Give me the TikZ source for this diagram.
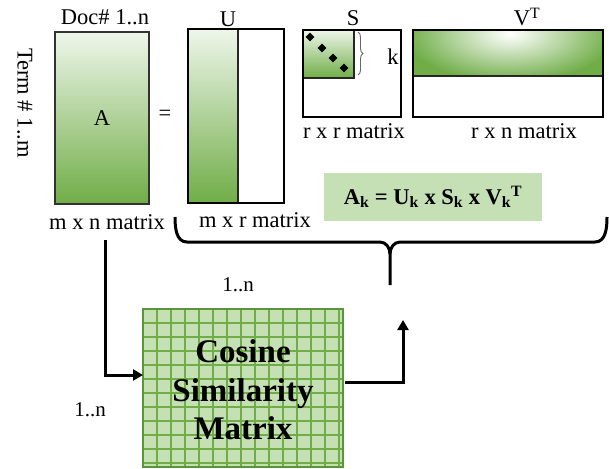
\documentclass[tikz,border=0pt]{standalone}
\usepackage{fontspec}
\setmainfont{Liberation Serif}
\usetikzlibrary{arrows.meta,decorations.pathreplacing,shapes.geometric}
\definecolor{gdark}{HTML}{70AD47}
\definecolor{gborder}{HTML}{5A9637}
\definecolor{glight}{HTML}{C5E0B4}
\definecolor{gpale}{HTML}{EEF6EA}
\begin{document}
\begin{tikzpicture}[x=1pt,y=-1pt,
  lbl/.style={font=\fontsize{22.5}{26}\selectfont, inner sep=0pt},
  frame/.style={draw=black, line width=2.5pt, inner sep=0pt},
  inner/.style={draw=black!85, line width=1.5pt},
  conn/.style={line width=3pt, -{Triangle[length=10pt,width=11pt]}},
  dot/.style={diamond, fill=black, inner sep=0pt, minimum size=9pt},
]
\useasboundingbox (0,0) rectangle (609,468);

% ---- matrix A
\node[inner sep=0pt, draw=black!80, line width=1.5pt, top color=gpale, bottom color=gdark,
      minimum width=94pt, minimum height=172pt, lbl] (A) at (102,118) {A};
\node[lbl] (docl) at (105,17) {Doc\# 1..n};
\node[lbl, rotate=-90] (terml) at (25,103) {Term \# 1..m};
\node[lbl] (eq) at (165,115) {=};
\node[lbl] (mxn) at (107,222) {m x n matrix};

% ---- matrix U
\shade[top color=gpale, bottom color=gdark] (188,29) rectangle (238,203);
\draw[inner] (238,29) -- (238,203);
\node[frame, minimum width=96pt, minimum height=174pt] (U) at (236,116) {};
\node[lbl] (ul) at (228,19) {U};
\node[lbl] (mxr) at (255,220) {m x r matrix};

% ---- matrix S
\shade[top color=gpale, bottom color=gdark] (303,30) rectangle (354,78);
\draw[inner] (303,78) -- (354,78) -- (354,30);
\node[frame, minimum width=98pt, minimum height=87pt] (S) at (352,73.5) {};
\node[dot] (d1) at (310,37) {};
\node[dot] (d2) at (322,48) {};
\node[dot] (d3) at (333,58) {};
\node[dot] (d4) at (344,68) {};
\draw[decorate, decoration={brace, amplitude=5pt}, black!60, line width=0.9pt] (358,32) -- (358,75);
\node[lbl] (kl) at (393,57) {k};
\node[lbl] (sl) at (353,18) {S};
\node[lbl] (rxr) at (354,131) {r x r matrix};

% ---- matrix V^T
\fill[gdark] (413,30) rectangle (603,76);
\begin{scope}
  \clip (413,30) rectangle (603,76);
  \shade[inner color=white, outer color=gdark] (510,34) ellipse (105pt and 48pt);
\end{scope}
\draw[inner] (413,76) -- (603,76);
\node[frame, minimum width=190pt, minimum height=87pt] (V) at (508,73.5) {};
\node[lbl] (vl) at (527,17) {V\textsuperscript{T}};
\node[lbl] (rxn) at (524,131) {r x n matrix};

% ---- formula
\node[fill=glight, minimum width=218pt, minimum height=48pt, inner sep=0pt,
      font=\bfseries\fontsize{22.5}{26}\selectfont] (form) at (433,197)
      {A\textsubscript{k} = U\textsubscript{k} x S\textsubscript{k} x V\textsubscript{k}\textsuperscript{T}};

% ---- big brace
\draw[line width=3pt] (175,217) to[out=-90,in=180] (187,242) -- (380,242) to[out=0,in=90] (390,254) -- (390,285);
\draw[line width=3pt] (607,217) to[out=-90,in=0] (595,242) -- (400,242) to[out=180,in=90] (390,254);

% ---- cosine similarity matrix
\node[fill=glight, minimum width=200pt, minimum height=158pt, inner sep=0pt] (cosbox) at (243,388) {};
\foreach \i in {1,...,14} \draw[gdark, line width=1.2pt] (143+14*\i,309) -- (143+14*\i,467);
\foreach \j in {1,...,11} \draw[gdark, line width=1.2pt] (143,309+14*\j) -- (343,309+14*\j);
\draw[gborder, line width=2.5pt] (cosbox.north west) rectangle (cosbox.south east);
\node[font=\bfseries\fontsize{33}{38.5}\selectfont, align=center, inner sep=0pt] (cos) at (243,390)
      {Cosine\\Similarity\\Matrix};

\node[font=\fontsize{21}{24}\selectfont, inner sep=0pt] (n1) at (238,285) {1..n};
\node[font=\fontsize{21}{24}\selectfont, inner sep=0pt] (n2) at (90,410) {1..n};

% ---- connectors
\coordinate (astart) at (105,240);
\coordinate (cin) at (143,375);
\coordinate (cout) at (345,382);
\coordinate (ctip) at (403,320);
\draw[conn] (astart) |- (cin);
\draw[conn] (cout) -| (ctip);
\end{tikzpicture}
\end{document}
